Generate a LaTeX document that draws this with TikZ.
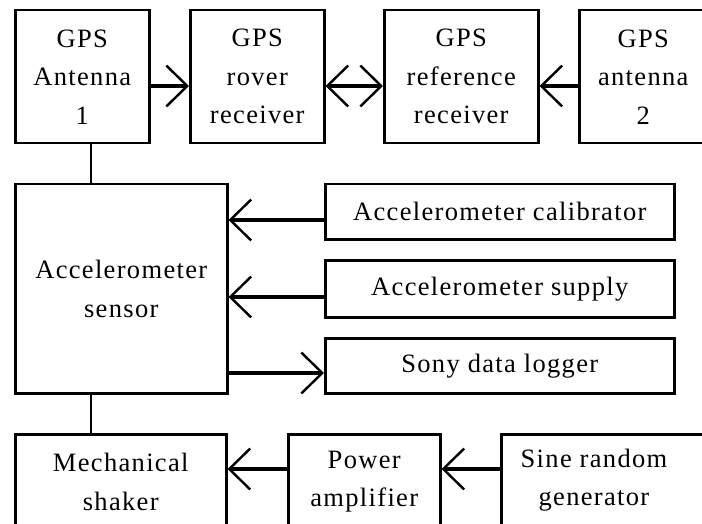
\documentclass[tikz,border=0pt]{standalone}
\usepackage{fontspec}
\setmainfont{Liberation Serif}[LetterSpace=5]
\usetikzlibrary{arrows.meta}
\tikzset{
  box/.style={draw, line width=2.5pt, inner sep=0pt, anchor=north west, align=center,
              font=\fontsize{26.5}{38.5}\selectfont},
  lbl/.style={inner sep=0pt, align=center, font=\fontsize{26.5}{38.5}\selectfont},
  barb/.tip={Straight Barb[length=21pt,width=41pt,line width=2.4pt]},
  arr/.style={line width=3.3pt, -barb},
  darr/.style={line width=3.3pt, barb-barb},
  plain/.style={line width=2.4pt}
}
\begin{document}
\begin{tikzpicture}[x=1pt,y=-1pt]
\useasboundingbox (0,0) rectangle (702,524);
% top row
\node[box, minimum width=134, minimum height=133] (ant1) at (14,9) {GPS\\Antenna\\1};
\node[box, minimum width=134, minimum height=133] (rover) at (189,9) {GPS\\rover\\receiver};
\node[box, minimum width=154, minimum height=133] (ref) at (383,9) {GPS\\reference\\receiver};
\node[box, minimum width=128, minimum height=133] (ant2) at (578,9) {GPS\\antenna\\2};
% middle
\node[box, minimum width=212, minimum height=209] (sensor) at (14,183) {Accelerometer\\sensor};
\node[box, minimum width=349, minimum height=55] (cal) at (324,183) {Accelerometer calibrator};
\node[box, minimum width=349, minimum height=57] (sup) at (324,259) {Accelerometer supply};
\node[box, minimum width=349, minimum height=55] (log) at (324,337) {Sony data logger};
% bottom
\node[box, minimum width=211, minimum height=95] (mech) at (14,433) {Mechanical\\shaker};
\node[box, minimum width=152, minimum height=95] (pow) at (287,433) {Power\\amplifier};
\node[box, minimum width=212, minimum height=95] (sine) at (500,433) {};
\node[lbl] (sinetxt) at (594,480) {Sine random\\generator};
% helper coordinates
\coordinate (ytop) at (0,86);
\coordinate (ycal) at (0,220);
\coordinate (ysup) at (0,297);
\coordinate (ylog) at (0,373);
\coordinate (ybot) at (0,469);
\coordinate (xv) at (91,0);
% top arrows
\draw[arr] (ant1.east |- ytop) -- (rover.west |- ytop);
\draw[darr] (rover.east |- ytop) -- (ref.west |- ytop);
\draw[arr] (ant2.west |- ytop) -- (ref.east |- ytop);
% middle arrows
\draw[arr] (cal.west |- ycal) -- (sensor.east |- ycal);
\draw[arr] (sup.west |- ysup) -- (sensor.east |- ysup);
\draw[arr] (sensor.east |- ylog) -- (log.west |- ylog);
% bottom arrows
\draw[arr] (pow.west |- ybot) -- (mech.east |- ybot);
\draw[arr] (sine.west |- ybot) -- (pow.east |- ybot);
% vertical links
\draw[plain] (xv |- ant1.south) -- (xv |- sensor.north);
\draw[plain] (xv |- sensor.south) -- (xv |- mech.north);
\end{tikzpicture}
\end{document}
